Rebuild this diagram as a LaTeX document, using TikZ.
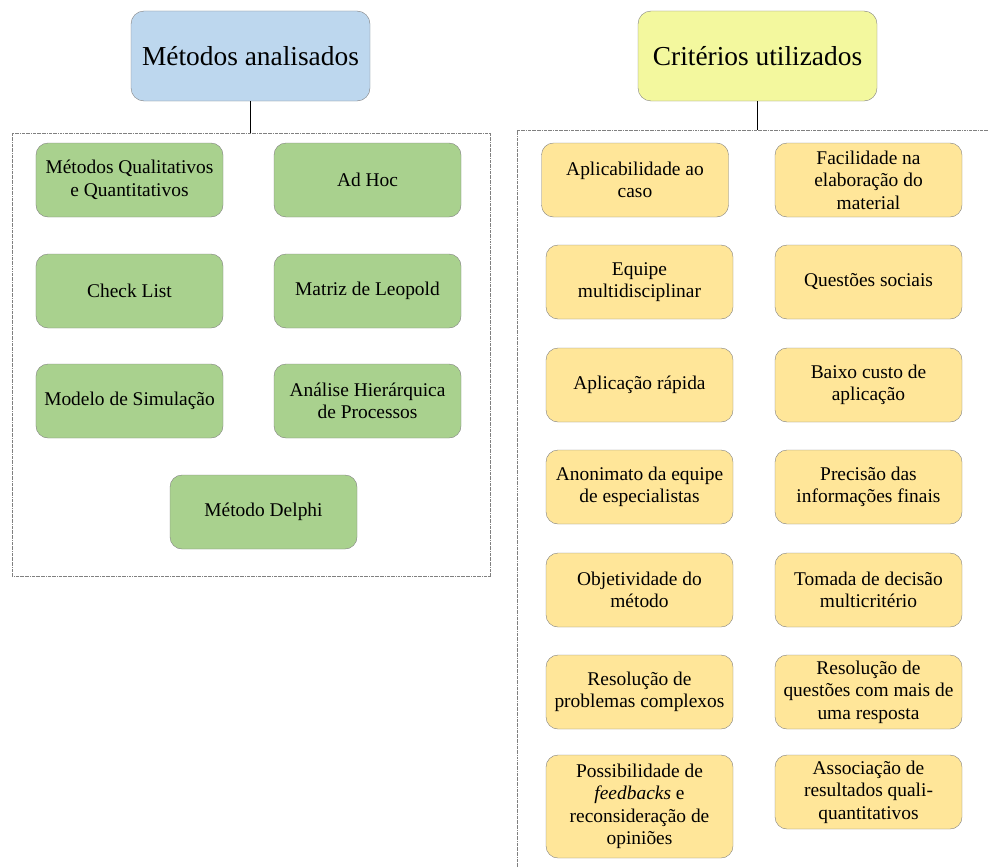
\documentclass[tikz,border=0pt]{standalone}
\usepackage{fontspec}
\setmainfont{Liberation Serif}
\usetikzlibrary{positioning}

\definecolor{azul}{HTML}{BDD7EE}
\definecolor{limao}{HTML}{F3F89E}
\definecolor{verde}{HTML}{A9D18E}
\definecolor{amarelo}{HTML}{FFE699}
\definecolor{borda}{HTML}{7F7F7F}

\begin{document}
\begin{tikzpicture}[x=1bp, y=-1bp,
    titulo/.style={draw=borda, rounded corners=13bp, minimum width=239bp,
        minimum height=90bp, align=center, font=\fontsize{27.5}{32}\selectfont},
    metodo/.style={draw=borda, fill=verde, rounded corners=12bp, minimum width=187bp,
        minimum height=74bp, align=center, font=\fontsize{19.5}{22.5}\selectfont},
    criterio/.style={metodo, fill=amarelo},
    moldura/.style={gray, densely dashdotted, line width=0.6pt}]
    \useasboundingbox (0,0) rectangle (988,867);

    % metodos analisados
    \node[titulo, fill=azul] (metodos) at (250.5,56) {Métodos analisados};
    \draw[moldura] (12,133) rectangle (490,576);
    \coordinate (mtopo) at (250.5,133);
    \draw (metodos) -- (mtopo);

    \node[metodo] (mqq)       at (129.5,180) {Métodos Qualitativos\\e Quantitativos};
    \node[metodo] (adhoc)     at (367.5,180) {Ad Hoc};
    \node[metodo] (checklist) at (129.5,291) {Check List};
    \node[metodo] (leopold)   at (367.5,291) {Matriz de Leopold};
    \node[metodo] (simul)     at (129.5,401) {Modelo de Simulação};
    \node[metodo] (ahp)       at (367.5,401) {Análise Hierárquica\\de Processos};
    \node[metodo] (delphi)    at (263.5,512) {Método Delphi};

    % criterios utilizados
    \node[titulo, fill=limao] (criterios) at (757.5,56) {Critérios utilizados};
    \draw[moldura] (988,130) -- (517,130) -- (517,867);
    \coordinate (ctopo) at (757.5,130);
    \draw (criterios) -- (ctopo);

    \node[criterio] (aplicab)   at (635,180)   {Aplicabilidade ao\\caso};
    \node[criterio] (facil)     at (868.5,180) {Facilidade na\\elaboração do\\material};
    \node[criterio] (equipe)    at (639.5,282) {Equipe\\multidisciplinar};
    \node[criterio] (sociais)   at (868.5,282) {Questões sociais};
    \node[criterio] (rapida)    at (639.5,385) {Aplicação rápida};
    \node[criterio] (custo)     at (868.5,385) {Baixo custo de\\aplicação};
    \node[criterio] (anonimato) at (639.5,487) {Anonimato da equipe\\de especialistas};
    \node[criterio] (precisao)  at (868.5,487) {Precisão das\\informações finais};
    \node[criterio] (objetiv)   at (639.5,590) {Objetividade do\\método};
    \node[criterio] (decisao)   at (868.5,590) {Tomada de decisão\\multicritério};
    \node[criterio] (complexos) at (639.5,692) {Resolução de\\problemas complexos};
    \node[criterio] (questoes)  at (868.5,692) {Resolução de\\questões com mais de\\uma resposta};
    \node[criterio, minimum height=103bp] (feedback) at (639.5,806.5)
        {Possibilidade de\\\textit{feedbacks} e\\reconsideração de\\opiniões};
    \node[criterio] (assoc)     at (868.5,792) {Associação de\\resultados quali-\\quantitativos};
\end{tikzpicture}
\end{document}
